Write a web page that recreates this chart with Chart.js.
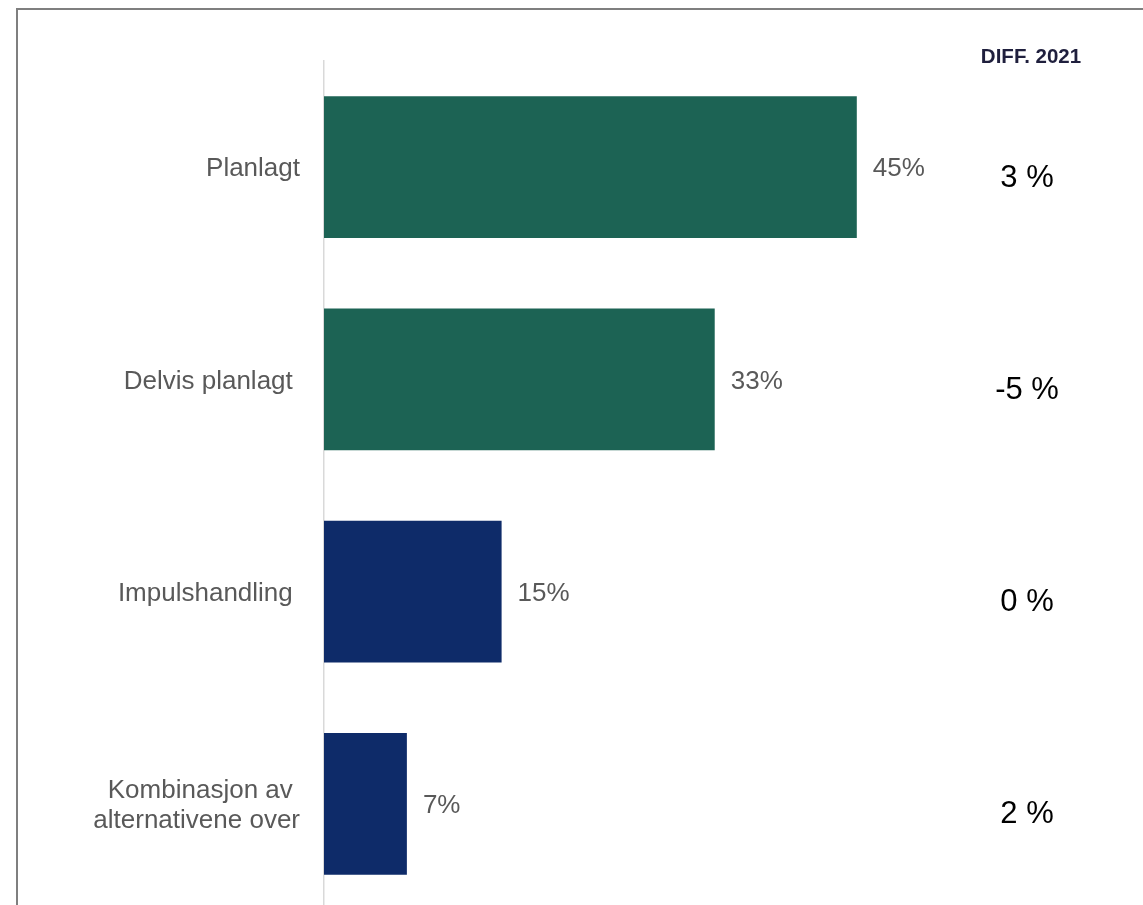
<!DOCTYPE html>
<html><head><meta charset="utf-8">
<script src="https://cdn.jsdelivr.net/npm/chart.js@4"></script>
<style>
html,body{margin:0;padding:0;overflow:hidden;background:#fff;width:1143px;height:905px}
#frame{position:absolute;left:16px;top:8px;width:1300px;height:1100px;border:2px solid #7f7f7f;box-sizing:border-box}
#wrap{position:absolute;left:0;top:0;width:1143px;height:920px}
</style></head><body>
<div id="frame"></div>
<div id="wrap"><canvas id="c" width="1143" height="920"></canvas></div>
<script>
const categories = ['Planlagt', 'Delvis planlagt ', 'Impulshandling ', ['Kombinasjon av ', 'alternativene over']];
const shares = [45, 33, 15, 7];
const diffs = ['3 %', '-5 %', '0 %', '2 %'];
const diffHeader = 'DIFF. 2021';
const barColors = ['#1c6354', '#1c6354', '#0e2b69', '#0e2b69'];

const FONT = '"Liberation Sans", Arial, sans-serif';

const valueLabels = {
  id: 'valueLabels',
  afterDatasetsDraw(chart) {
    const ctx = chart.ctx;
    const meta = chart.getDatasetMeta(0);
    ctx.save();
    ctx.font = '26px ' + FONT;
    ctx.fillStyle = '#595959';
    ctx.textAlign = 'left';
    ctx.textBaseline = 'middle';
    meta.data.forEach((bar, i) => {
      ctx.fillText(shares[i] + '%', bar.x + 16, bar.y + 2);
    });
    ctx.restore();
  }
};

const diffColumn = {
  id: 'diffColumn',
  afterDraw(chart) {
    const ctx = chart.ctx;
    const ca = chart.chartArea;
    const yScale = chart.scales.y;
    const cx = ca.right + 111;
    ctx.save();
    ctx.textAlign = 'center';
    ctx.textBaseline = 'middle';
    ctx.font = 'bold 20.5px ' + FONT;
    ctx.fillStyle = '#1f1f3d';
    ctx.fillText(diffHeader, cx + 4, ca.top - 4);
    ctx.font = '31px ' + FONT;
    ctx.fillStyle = '#000000';
    diffs.forEach((d, i) => {
      ctx.fillText(d, cx, yScale.getPixelForValue(i) + 11);
    });
    ctx.restore();
  }
};

new Chart(document.getElementById('c'), {
  type: 'bar',
  data: {
    labels: categories,
    datasets: [{
      data: shares,
      backgroundColor: barColors,
      borderWidth: 0,
      barPercentage: 0.669,
      categoryPercentage: 1
    }]
  },
  options: {
    indexAxis: 'y',
    responsive: false,
    devicePixelRatio: 1,
    animation: false,
    layout: { padding: { top: 61, bottom: 10, left: 0, right: 227 } },
    plugins: { legend: { display: false }, tooltip: { enabled: false } },
    scales: {
      x: { display: false, min: 0, max: 50 },
      y: {
        afterFit(scale) { scale.width = 324; scale.paddingTop = 0; scale.paddingBottom = 0; },
        grid: { display: false, drawTicks: false },
        border: { display: true, color: '#d9d9d9', width: 1.5 },
        ticks: {
          padding: 24,
          labelOffset: 2,
          color: '#595959',
          font: { family: FONT, size: 26, lineHeight: 1.15 }
        }
      }
    }
  },
  plugins: [valueLabels, diffColumn]
});
</script>
</body></html>
